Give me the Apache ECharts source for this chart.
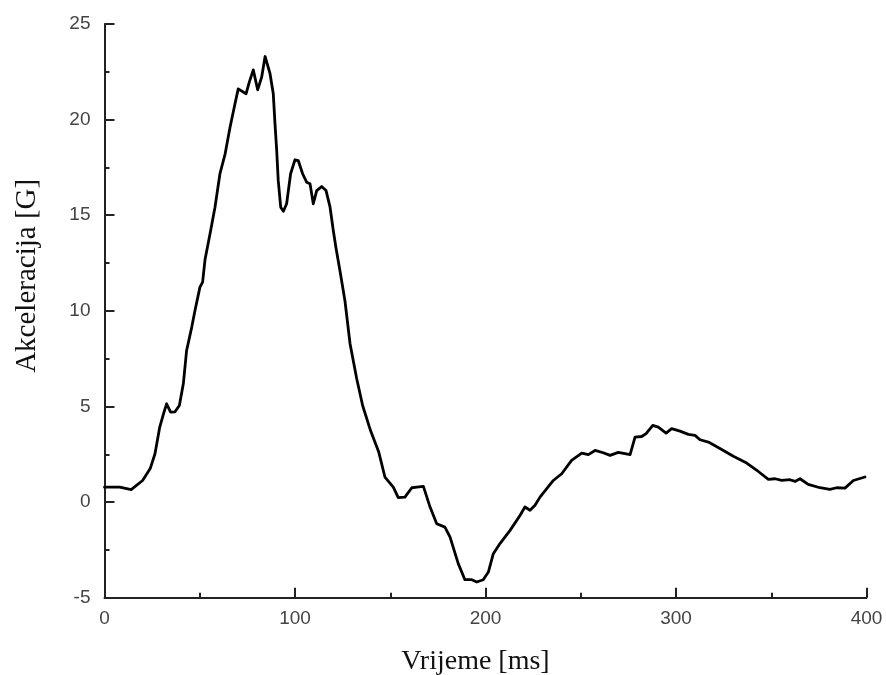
<!DOCTYPE html>
<html>
<head>
<meta charset="utf-8">
<script src="https://cdn.jsdelivr.net/npm/echarts@6/dist/echarts.min.js"></script>
<style>
html,body{margin:0;padding:0;background:#fff;}
#chart{width:886px;height:675px;}
</style>
</head>
<body>
<div id="chart"></div>
<script>
const xAxisName = 'Vrijeme [ms]';
const yAxisName = 'Akceleracija [G]';

const timesMs = [
  0, 8, 14, 20, 24, 26.5, 29, 31, 32.6, 34.7,
  37, 39.3, 41.4, 43.1, 45.8, 47.5, 50.1, 51.5, 52.8, 55.4,
  58, 60.6, 63.3, 65.9, 68.5, 70.2, 74.3, 76, 78.1, 80.4,
  82.5, 84.3, 86.9, 88.6, 89.5, 90.4, 91.2, 92.5, 93.9, 95.6,
  97.7, 100, 101.7, 104, 106.1, 107.9, 109.6, 111.4, 114, 116.3,
  118.4, 120.1, 121.5, 123.6, 126.2, 128.9, 132.4, 135.5, 139.6, 144,
  147.2, 151.6, 154.2, 157.7, 161.3, 163.9, 167.4, 170.9, 174.4, 178.7,
  181.4, 185.7, 189.2, 192.8, 195.4, 198.8, 201.5, 204.1, 207.6, 212.9,
  218.1, 220.7, 223.4, 226, 228.6, 235.6, 240, 245.2, 250.5, 254,
  257.5, 261.8, 265.4, 269.7, 273.2, 275.9, 278.5, 282, 284.3, 287.8,
  290.7, 294.8, 297.7, 302.1, 306.5, 310, 312.6, 317, 323.3, 330.1,
  337.1, 343.2, 348.5, 352, 355.5, 359.8, 362.5, 365.1, 369.4, 375.6,
  380.8, 384.3, 388.7, 393.1, 399.2
];

const accelG = [
  0.78, 0.78, 0.65, 1.13, 1.75, 2.53, 3.92, 4.62, 5.14, 4.70,
  4.72, 5.05, 6.2, 7.93, 9.15, 10.02, 11.24, 11.5, 12.7, 14.03,
  15.42, 17.17, 18.2, 19.6, 20.83, 21.61, 21.35, 21.96, 22.6, 21.56,
  22.22, 23.3, 22.4, 21.35, 19.78, 18.38, 16.82, 15.42, 15.21, 15.6,
  17.17, 17.9, 17.86, 17.17, 16.73, 16.64, 15.6, 16.29, 16.5, 16.29,
  15.42, 14.2, 13.3, 12.1, 10.54, 8.28, 6.45, 5.05, 3.75, 2.6,
  1.31, 0.78, 0.23, 0.26, 0.75, 0.78, 0.82, -0.26, -1.13, -1.31,
  -1.83, -3.22, -4.06, -4.06, -4.18, -4.06, -3.66, -2.70, -2.17, -1.48,
  -0.70, -0.26, -0.43, -0.17, 0.26, 1.13, 1.48, 2.18, 2.56, 2.48,
  2.70, 2.58, 2.44, 2.6, 2.53, 2.48, 3.40, 3.43, 3.58, 4.01,
  3.92, 3.61, 3.84, 3.71, 3.54, 3.49, 3.26, 3.14, 2.79, 2.40,
  2.04, 1.60, 1.19, 1.22, 1.13, 1.17, 1.08, 1.22, 0.93, 0.75,
  0.66, 0.75, 0.73, 1.13, 1.31
];

const xMin = 0, xMax = 400, xStep = 100;
const yMin = -5, yMax = 25, yStep = 5;

const seriesData = timesMs.map((t, i) => [t, accelG[i]]);

const chart = echarts.init(document.getElementById('chart'), null, {renderer: 'canvas'});

const axisCommon = {
  axisLine: {show: true, onZero: false, lineStyle: {color: '#222', width: 2}},
  axisTick: {show: true, inside: true, length: 10, lineStyle: {color: '#222', width: 2}},
  minorTick: {show: true, splitNumber: 2, length: 5, lineStyle: {color: '#222', width: 2}},
  splitLine: {show: false},
  axisLabel: {color: '#444', fontFamily: 'Liberation Sans, Arial, sans-serif', fontSize: 19}
};

chart.setOption({
  animation: false,
  backgroundColor: '#fff',
  grid: {left: 104.5, right: 19.5, top: 24, bottom: 77.3, containLabel: false, outerBoundsMode: 'none'},
  xAxis: Object.assign({}, axisCommon, {
    type: 'value', min: xMin, max: xMax, interval: xStep,
    name: xAxisName, nameLocation: 'middle', nameGap: 50,
    nameTextStyle: {color: '#111', fontFamily: 'Liberation Serif, Times New Roman, serif', fontSize: 28, padding: [0, 20, 0, 0]},
    axisLabel: Object.assign({}, axisCommon.axisLabel, {margin: 12})
  }),
  yAxis: Object.assign({}, axisCommon, {
    type: 'value', min: yMin, max: yMax, interval: yStep,
    name: yAxisName, nameLocation: 'middle', nameGap: 63,
    nameTextStyle: {color: '#111', fontFamily: 'Liberation Serif, Times New Roman, serif', fontSize: 29, padding: [0, 0, 0, 70]},
    axisLabel: Object.assign({}, axisCommon.axisLabel, {margin: 14})
  }),
  series: [{
    type: 'line',
    data: seriesData,
    showSymbol: false,
    smooth: false,
    lineStyle: {color: '#000', width: 2.8, join: 'round', cap: 'round'}
  }]
});
</script>
</body>
</html>
